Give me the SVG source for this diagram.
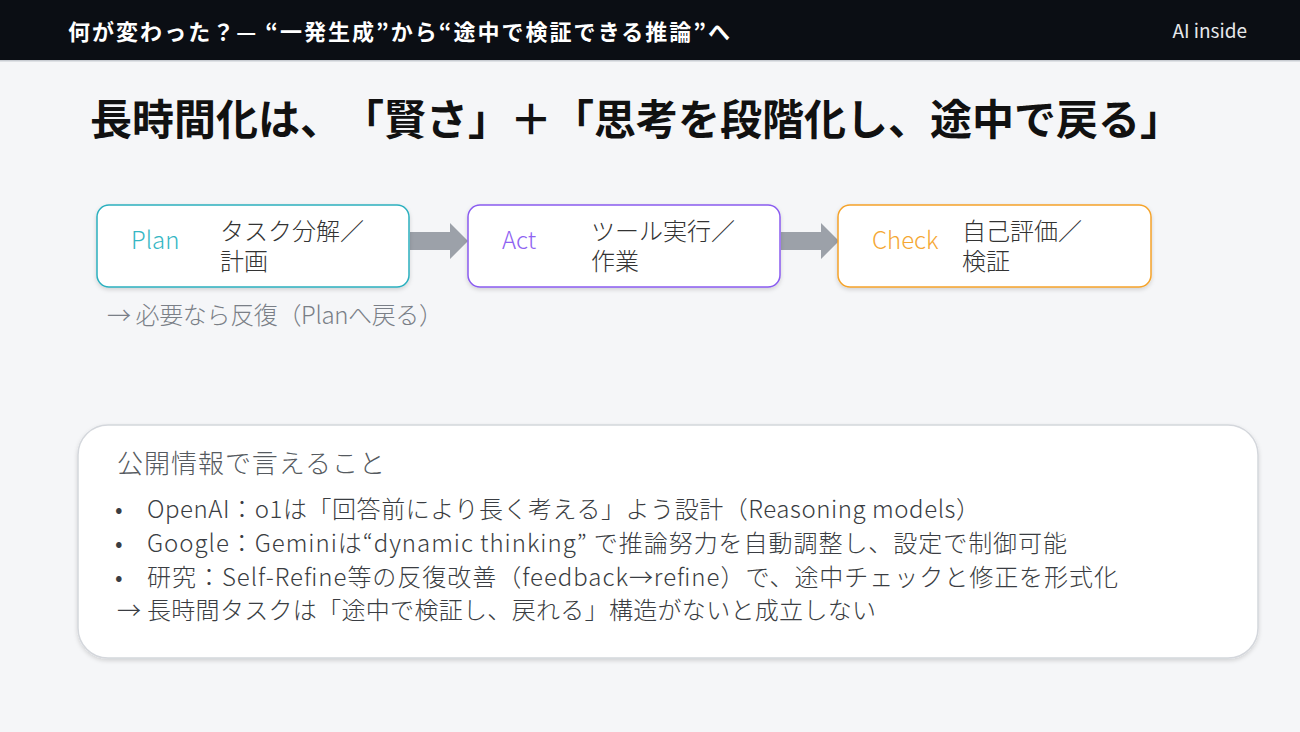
<svg xmlns="http://www.w3.org/2000/svg" width="1300" height="732" viewBox="0 0 1300 732">
<defs>
<style>
.jp{font-family:"Noto Sans CJK JP","Noto Sans",sans-serif;}
.hdr{fill:#ffffff;font-size:22px;font-weight:700;}
.ttl{fill:#111111;font-size:42px;font-weight:700;}
.box{fill:#ffffff;stroke-width:1.5;}
.lbl{font-size:24px;font-weight:300;}
.desc{fill:#333333;font-size:24px;font-weight:300;}
.note{fill:#7a7f87;font-size:24px;font-weight:300;}
.body{fill:#3a3d42;font-size:24px;font-weight:300;}
.arrow{fill:#9ca1a9;}
</style>
<filter id="sh" x="-5%" y="-10%" width="110%" height="130%">
<feDropShadow dx="0" dy="2" stdDeviation="2" flood-color="#000" flood-opacity="0.15"/>
</filter>
</defs>
<rect x="0" y="0" width="1300" height="732" fill="#f5f6f8"/>
<g id="header">
<rect x="0" y="0" width="1300" height="60" fill="#0b0e14"/>
<rect x="0" y="60" width="1300" height="1.5" fill="#c8ccd2"/>
<text class="jp hdr" x="68" y="40" textLength="662" lengthAdjust="spacing">何が変わった？— “一発生成”から“途中で検証できる推論”へ</text>
<text class="jp" x="1247" y="38" text-anchor="end" fill="#e6e8eb" font-size="19">AI inside</text>
</g>
<g id="title">
<text class="jp ttl" y="135" x="90 132 174 216 258 300 342 384 426 468 510 552 594 636 678 720 762 804 846 888 930 972 1014 1056 1098 1140">長時間化は、「賢さ」＋「思考を段階化し、途中で戻る」</text>
</g>
<g id="connectors">
<polygon class="arrow" points="410,232 450,232 450,223 468,241 450,259 450,250 410,250"/>
<polygon class="arrow" points="781,232 821,232 821,223 839,241 821,259 821,250 781,250"/>
</g>
<g id="plan">
<rect class="box" x="97" y="205" width="312" height="82" rx="12" stroke="#2bb0bf" filter="url(#sh)"/>
<text class="jp lbl" x="131" y="249" fill="#35b7c4">Plan</text>
<text class="jp desc" x="220" y="240">タスク分解／</text>
<text class="jp desc" x="220" y="270">計画</text>
</g>
<g id="act">
<rect class="box" x="468" y="205" width="312" height="82" rx="12" stroke="#8a5cf0" filter="url(#sh)"/>
<text class="jp lbl" x="502" y="249" fill="#8f63f2">Act</text>
<text class="jp desc" x="591" y="240">ツール実行／</text>
<text class="jp desc" x="591" y="270">作業</text>
</g>
<g id="check">
<rect class="box" x="838" y="205" width="313" height="82" rx="12" stroke="#f5a32a" filter="url(#sh)"/>
<text class="jp lbl" x="872" y="249" fill="#f5a733">Check</text>
<text class="jp desc" x="962" y="240">自己評価／</text>
<text class="jp desc" x="962" y="270">検証</text>
</g>
<g id="loop-note">
<text class="jp note" x="107" y="324" textLength="336" lengthAdjust="spacing">→ 必要なら反復（Planへ戻る）</text>
</g>
<g id="info">
<rect x="78" y="425" width="1180" height="233" rx="30" fill="#ffffff" stroke="#d4d7dc" stroke-width="1.5" filter="url(#sh)"/>
<text class="jp" x="117" y="473" fill="#555a60" font-size="26" font-weight="300" textLength="268" lengthAdjust="spacing">公開情報で言えること</text>
<text class="jp body" x="115" y="518">•</text>
<text class="jp body" x="147" y="518" textLength="833" lengthAdjust="spacing">OpenAI：o1は「回答前により長く考える」よう設計（Reasoning models）</text>
<text class="jp body" x="115" y="552">•</text>
<text class="jp body" x="147" y="552" textLength="920" lengthAdjust="spacing">Google：Geminiは“dynamic thinking” で推論努力を自動調整し、設定で制御可能</text>
<text class="jp body" x="115" y="586">•</text>
<text class="jp body" x="147" y="586" textLength="971" lengthAdjust="spacing">研究：Self-Refine等の反復改善（feedback→refine）で、途中チェックと修正を形式化</text>
<text class="jp body" x="117" y="619" textLength="759" lengthAdjust="spacing">→ 長時間タスクは「途中で検証し、戻れる」構造がないと成立しない</text>
</g>
</svg>
